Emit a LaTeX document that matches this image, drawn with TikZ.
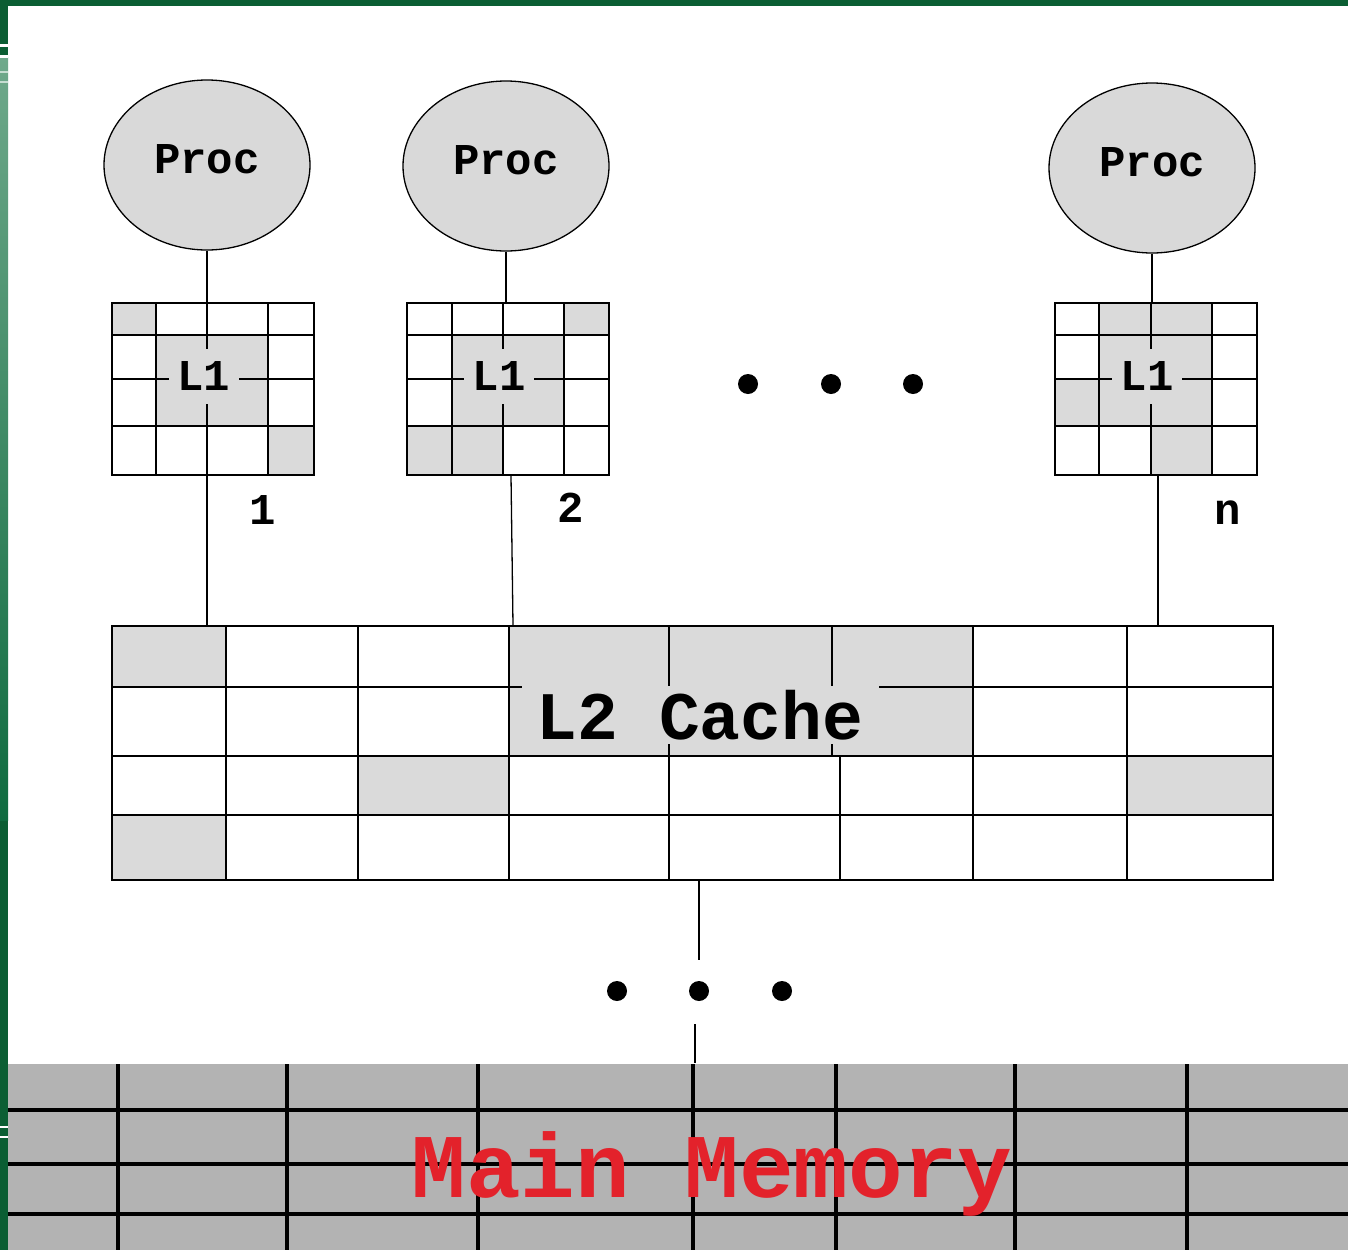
\documentclass[tikz,border=0pt]{standalone}
\usepackage{fontspec}
\setmonofont{Liberation Mono}
\usetikzlibrary{shapes.geometric}
\definecolor{dkgreen}{HTML}{0B5E33}
\definecolor{ltgreen}{HTML}{6FA98B}
\definecolor{midgreen}{HTML}{0F6B3F}
\definecolor{cellgray}{HTML}{DADADA}
\definecolor{procgray}{HTML}{D9D9D9}
\definecolor{memgray}{HTML}{B3B3B3}
\definecolor{memred}{HTML}{E3222B}
\begin{document}
\begin{tikzpicture}[x=1pt,y=-1pt,line width=1.3pt,
  monofont/.style={font=\fontsize{44}{50}\selectfont\ttfamily\bfseries},
  proc/.style={ellipse,draw,fill=procgray,minimum width=206,minimum height=170,inner sep=0,monofont,text depth=12pt},
  cachebox/.style={draw,rectangle,inner sep=0},
  gap/.style={fill=cellgray,inner sep=0,text depth=0pt},
  l1text/.style={gap,minimum width=70,minimum height=55,monofont},
  num/.style={monofont,anchor=base,inner sep=0},
  dot/.style={circle,fill=black,minimum size=20,inner sep=0},
  memline/.style={line width=4pt,black},
]
\fill[white] (0,0) rectangle (1348,1250);
\useasboundingbox (0,0) rectangle (1348,1250);
% frame
\fill[dkgreen] (0,0) rectangle (1348,6);
\fill[dkgreen] (0,0) rectangle (8,1250);
\shade[top color=ltgreen,bottom color=midgreen] (0,57) rectangle (8,820);
\fill[white] (0,44) rectangle (8,46.5);
\fill[white] (0,55) rectangle (8,57.5);
\fill[white!60!ltgreen] (0,71) rectangle (8,73);
\fill[white!60!ltgreen] (0,81) rectangle (8,83);
\fill[white] (0,1126) rectangle (8,1128);
\fill[white] (0,1136) rectangle (8,1138);

% processors
\node[proc] (p1) at (207,165) {Proc};
\node[proc] (p2) at (506,166) {Proc};
\node[proc] (p3) at (1152,168) {Proc};

% L1 box 1
\fill[cellgray] (112,303) rectangle (156,335);
\fill[cellgray] (156,335) rectangle (268,426);
\fill[cellgray] (268,426) rectangle (314,475);
\draw (156,303) -- (156,475) (207,303) -- (207,475) (268,303) -- (268,475)
      (112,335) -- (314,335) (112,379) -- (314,379) (112,426) -- (314,426);
\node[l1text] (t1) at (204,376) {L1};
\node[cachebox,minimum width=202,minimum height=172] (b1) at (213,389) {};

% L1 box 2
\fill[cellgray] (564,303) rectangle (609,335);
\fill[cellgray] (452,335) rectangle (564,426);
\fill[cellgray] (407,426) rectangle (503,475);
\draw (452,303) -- (452,475) (503,303) -- (503,475) (564,303) -- (564,475)
      (407,335) -- (609,335) (407,379) -- (609,379) (407,426) -- (609,426);
\node[l1text] (t2) at (499,376) {L1};
\node[cachebox,minimum width=202,minimum height=172] (b2) at (508,389) {};

% L1 box 3
\fill[cellgray] (1099,303) rectangle (1212,426);
\fill[cellgray] (1055,379) rectangle (1099,426);
\fill[cellgray] (1151,426) rectangle (1212,475);
\draw (1099,303) -- (1099,475) (1151,303) -- (1151,475) (1212,303) -- (1212,475)
      (1055,335) -- (1257,335) (1055,379) -- (1257,379) (1055,426) -- (1257,426);
\node[l1text] (t3) at (1147,376) {L1};
\node[cachebox,minimum width=202,minimum height=172] (b3) at (1156,389) {};

% labels
\node[num] (n1) at (263,524) {1};
\node[num] (n2) at (571,522) {2};
\node[num] (n3) at (1228,524) {n};

% dots
\node[dot] (d1) at (748,384) {};
\node[dot] (d2) at (831,384) {};
\node[dot] (d3) at (913,384) {};

% L2 cache
\fill[cellgray] (112,626) rectangle (226,687);
\fill[cellgray] (509,626) rectangle (973,756);
\fill[cellgray] (358,756) rectangle (509,815);
\fill[cellgray] (1127,756) rectangle (1273,815);
\fill[cellgray] (112,815) rectangle (225,880);
\draw (226,626) -- (226,880) (358,626) -- (358,880) (509,626) -- (509,880)
      (669,626) -- (669,880) (832,626) -- (832,756) (840,756) -- (840,880)
      (973,626) -- (973,880) (1127,626) -- (1127,880)
      (112,687) -- (1273,687) (112,756) -- (1273,756) (112,815) -- (1273,815);
\node[gap,minimum width=357,minimum height=58,font=\fontsize{68}{76}\selectfont\ttfamily\bfseries] (t4) at (700,715) {L2 Cache};
\node[cachebox,minimum width=1161,minimum height=254] (l2) at (692.5,753) {};

% connectors
\draw (p1.south) -- (p1.south |- b1.north);
\draw (p2.south) -- (p2.south |- b2.north);
\draw (p3.south) -- (p3.south |- b3.north);
\draw (b1.south -| p1.south) -- (l2.north -| p1.south);
\draw ([xshift=3pt]b2.south) -- ([xshift=5pt]b2.south |- l2.north);
\draw ([xshift=2pt]b3.south) -- ([xshift=2pt]b3.south |- l2.north);

% lower dots
\node[dot] (d4) at (617,991) {};
\node[dot] (d5) at (699,991) {};
\node[dot] (d6) at (782,991) {};

% main memory
\node[fill=memgray,inner sep=0,minimum width=1340,minimum height=186] (mm) at (678,1157) {};
\draw[memline] (8,1110) -- (1348,1110) (8,1164) -- (1348,1164) (8,1214) -- (1348,1214);
\foreach \xx in {118,287,478,693,836,1015,1187}
  \draw[memline] (\xx,1064) -- (\xx,1250);
\node[font=\fontsize{91}{100}\selectfont\ttfamily\bfseries,text=memred,anchor=base,inner sep=0] (mmt) at (712,1197) {Main Memory};

\coordinate (dtop) at (699,960);
\draw (l2.south -| dtop) -- (dtop);
\coordinate (dbot) at (695,1024);
\draw (dbot) -- (dbot |- mm.north);
\end{tikzpicture}
\end{document}
